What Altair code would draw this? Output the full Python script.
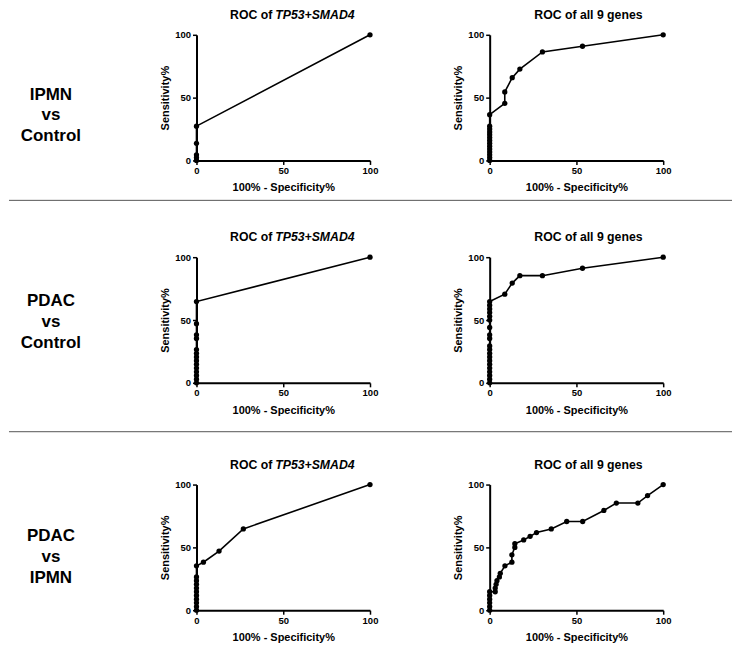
import altair as alt
import pandas as pd

FONT = "Liberation Sans"

# ---- data (100% - Specificity%, Sensitivity%) ----
r1a_x = [0, 0, 0, 0, 0, 100]
r1a_y = [0, 2.3, 4.5, 13.6, 27.3, 100]

r1b_x = [0, 0, 0, 0, 0, 0, 0, 0, 0, 0, 0, 0, 0, 0, 8.7, 8.7, 13.0, 17.4, 30.4, 53.5, 100]
r1b_y = [0, 2.3, 4.5, 6.8, 9.1, 11.4, 13.6, 15.9, 18.2, 20.5, 22.7, 25.0, 27.3, 36.4,
         45.5, 54.5, 65.9, 72.7, 86.4, 90.9, 100]

r2a_x = [0, 0, 0, 0, 0, 0, 0, 0, 0, 0, 0, 0, 0, 0, 100]
r2a_y = [0, 2.9, 5.9, 8.8, 11.8, 14.7, 17.6, 20.6, 23.5, 26.5, 35.3, 38.2, 47.1, 64.7, 100]

r2b_x = [0, 0, 0, 0, 0, 0, 0, 0, 0, 0, 0, 0, 0, 0, 0, 0, 0, 0, 0, 0,
         8.7, 13.0, 17.4, 30.4, 53.5, 100]
r2b_y = [0, 2.9, 5.9, 8.8, 11.8, 14.7, 17.6, 20.6, 23.5, 26.5, 29.4, 35.3, 38.2, 44.1,
         50.0, 52.9, 55.9, 58.8, 61.8, 64.7, 70.6, 79.4, 85.3, 85.3, 91.2, 100]

r3a_x = [0, 0, 0, 0, 0, 0, 0, 0, 0, 0, 0, 4.0, 13.0, 27.0, 100]
r3a_y = [0, 2.9, 5.9, 8.8, 11.8, 14.7, 17.6, 20.6, 23.5, 26.5, 35.3, 38.2, 47.1, 64.7, 100]

r3b_x = [0, 0, 0, 0, 0, 0, 3.2, 3.2, 3.7, 4.2, 5.6, 6.1, 8.8, 12.8, 12.8, 14.5, 14.5,
         19.6, 23.3, 27.0, 35.5, 44.4, 53.6, 65.8, 73.0, 85.4, 91.0, 100]
r3b_y = [0, 2.9, 5.9, 8.8, 11.8, 14.7, 14.7, 17.6, 20.6, 23.5, 26.5, 29.4, 35.3, 38.2,
         44.1, 50.0, 52.9, 55.9, 58.8, 61.8, 64.7, 70.6, 70.6, 79.4, 85.3, 85.3, 91.2, 100]

row_labels = ["IPMN\nvs\nControl", "PDAC\nvs\nControl", "PDAC\nvs\nIPMN"]
row_label_y = [60, 44, 52]
sep_y = [166, 175, None]
title_prefix = "ROC of"
title_genes = "TP53+SMAD4"
title_all = "ROC of all 9 genes"
x_title = "100% - Specificity%"
y_title = "Sensitivity%"
ticks = [0, 50, 100]

PW, PH = 174, 126


def panel(xs, ys, kind):
    df = pd.DataFrame({"x": xs, "y": ys, "i": list(range(len(xs)))})
    base = alt.Chart(df)
    xenc = alt.X("x:Q", scale=alt.Scale(domain=[0, 100], nice=False, zero=False),
                 axis=alt.Axis(values=ticks, title=x_title, labelPadding=1, titlePadding=7,
                               labelFlush=False))
    yenc = alt.Y("y:Q", scale=alt.Scale(domain=[0, 100], nice=False, zero=False),
                 axis=alt.Axis(values=ticks, title=y_title, labelPadding=2, titlePadding=4,
                               labelFlush=False))
    line = base.mark_line(color="black", strokeWidth=1.6).encode(x=xenc, y=yenc, order="i:Q")
    pts = base.mark_circle(color="black", size=28, opacity=1).encode(x="x:Q", y="y:Q")
    layers = [line, pts]
    if kind == "genes":
        t1 = alt.Chart(pd.DataFrame({"t": [title_prefix]})).mark_text(
            font=FONT, fontSize=12.3, fontWeight="bold", align="right", baseline="middle",
            color="black").encode(text="t:N", x=alt.value(76), y=alt.value(-20))
        t2 = alt.Chart(pd.DataFrame({"t": [title_genes]})).mark_text(
            font=FONT, fontSize=12.3, fontWeight="bold", fontStyle="italic", align="left",
            baseline="middle", color="black").encode(text="t:N", x=alt.value(79), y=alt.value(-20))
        layers += [t1, t2]
    else:
        t = alt.Chart(pd.DataFrame({"t": [title_all]})).mark_text(
            font=FONT, fontSize=12.3, fontWeight="bold", align="center", baseline="middle",
            color="black").encode(text="t:N", x=alt.value(99), y=alt.value(-20))
        layers += [t]
    return alt.layer(*layers).properties(width=PW, height=PH)


def label(text, yoff, sy, h):
    df = pd.DataFrame({"t": [text]})
    txt = alt.Chart(df).mark_text(
        font=FONT, fontSize=17, fontWeight="bold", lineBreak="\n", lineHeight=20.8,
        align="center", baseline="middle", color="black"
    ).encode(text="t:N", x=alt.value(42), y=alt.value(yoff))
    layers = [txt]
    if sy is not None:
        rule = alt.Chart(pd.DataFrame({"a": [0]})).mark_rule(
            color="#555555", strokeWidth=1).encode(
            x=alt.value(0), x2=alt.value(725), y=alt.value(sy))
        layers.append(rule)
    return alt.layer(*layers).properties(width=68, height=h)


data = [(r1a_x, r1a_y, r1b_x, r1b_y), (r2a_x, r2a_y, r2b_x, r2b_y), (r3a_x, r3a_y, r3b_x, r3b_y)]
label_h = [PH, PH + 5, PH]
cells = []
for k, (ax, ay, bx, by) in enumerate(data):
    cells += [label(row_labels[k], row_label_y[k], sep_y[k], label_h[k]),
              panel(ax, ay, "genes"), panel(bx, by, "all")]

chart = alt.concat(*cells, columns=3, spacing={"row": 97, "column": 120},
                   bounds="flush").properties(padding=0).configure_view(
    stroke=None).configure_axis(
    labelFont=FONT, labelFontSize=9.5, labelFontWeight="bold", labelColor="black",
    titleFont=FONT, titleFontSize=11, titleFontWeight="bold", titleColor="black",
    domainColor="black", domainWidth=2, tickColor="black", tickWidth=1.5, tickSize=4,
    grid=False)

chart.save("out.html", embed_options={"renderer": "svg", "actions": False})
